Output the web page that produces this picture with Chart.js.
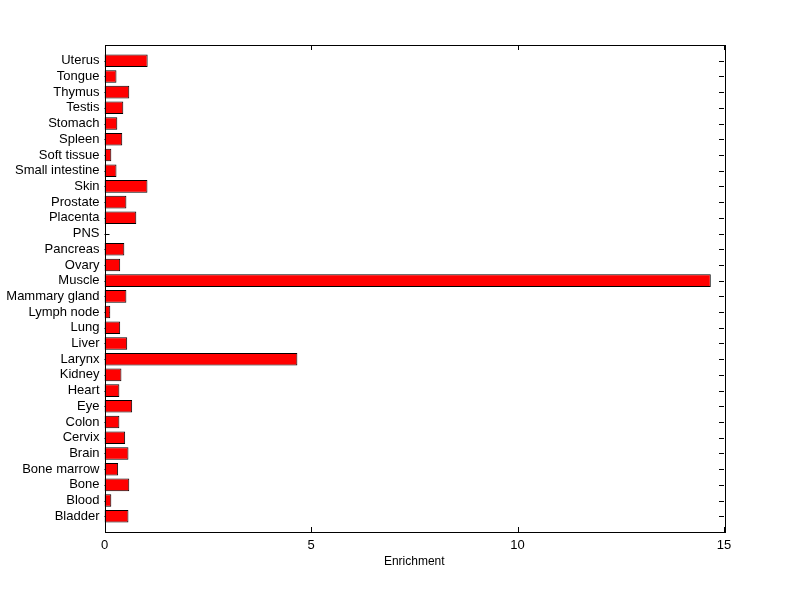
<!DOCTYPE html>
<html>
<head>
<meta charset="utf-8">
<script src="https://cdn.jsdelivr.net/npm/chart.js@4"></script>
<style>
  html, body { margin: 0; padding: 0; background: #fff; }
  canvas { display: block; }
</style>
</head>
<body>
<canvas id="c" width="800" height="599"></canvas>
<script>
// tissues listed bottom to top, as in the figure
const tissues = ['Bladder', 'Blood', 'Bone', 'Bone marrow', 'Brain', 'Cervix', 'Colon', 'Eye', 'Heart',
    'Kidney', 'Larynx', 'Liver', 'Lung', 'Lymph node', 'Mammary gland', 'Muscle', 'Ovary', 'Pancreas',
    'PNS', 'Placenta', 'Prostate', 'Skin', 'Small intestine', 'Soft tissue', 'Spleen', 'Stomach',
    'Testis', 'Thymus', 'Tongue', 'Uterus'];
const enrichment = [0.58, 0.165, 0.60, 0.33, 0.58, 0.50, 0.36, 0.67, 0.36,
    0.41, 4.67, 0.55, 0.38, 0.14, 0.53, 14.68, 0.38, 0.48,
    0, 0.77, 0.53, 1.04, 0.29, 0.165, 0.43, 0.31,
    0.455, 0.60, 0.29, 1.045];
const xTicks = [0, 5, 10, 15];

// chart.js puts first label on top, pad one empty slot at each end (axis runs 0..31)
const labels = [''].concat(tissues.slice().reverse(), ['']);
const values = [null].concat(enrichment.slice().reverse(), [null]);

const FONT = { family: '"Liberation Sans", Arial, sans-serif', size: 13 };

// inward ticks go under the bars, the box on top
const boxTicks = {
    id: 'boxTicks',
    beforeDatasetsDraw(chart) {
        const { ctx, chartArea: a, scales } = chart;
        ctx.save();
        ctx.strokeStyle = '#000';
        ctx.lineWidth = 1;
        ctx.beginPath();
        scales.y.ticks.forEach((t, i) => {
            if (!labels[i]) return;
            const y = Math.round(scales.y.getPixelForTick(i)) + 0.5;
            ctx.moveTo(a.left, y); ctx.lineTo(a.left + 5, y);
            ctx.moveTo(a.right, y); ctx.lineTo(a.right - 5, y);
        });
        xTicks.forEach(v => {
            const x = Math.round(scales.x.getPixelForValue(v)) + 0.5;
            ctx.moveTo(x, a.bottom); ctx.lineTo(x, a.bottom - 5);
            ctx.moveTo(x, a.top); ctx.lineTo(x, a.top + 5);
        });
        ctx.stroke();
        ctx.restore();
    },
    afterDraw(chart) {
        const { ctx, chartArea: a } = chart;
        ctx.save();
        ctx.strokeStyle = '#000';
        ctx.lineWidth = 1;
        ctx.strokeRect(Math.round(a.left) + 0.5, Math.round(a.top) + 0.5,
            Math.round(a.right - a.left), Math.round(a.bottom - a.top));
        ctx.restore();
    }
};

new Chart(document.getElementById('c'), {
    type: 'bar',
    data: {
        labels,
        datasets: [{
            label: 'Enrichment',
            data: values,
            backgroundColor: '#ff0000',
            borderColor: '#000',
            borderWidth: 1,
            borderSkipped: false,
            barPercentage: 0.8,
            categoryPercentage: 1
        }]
    },
    options: {
        indexAxis: 'y',
        responsive: false,
        animation: false,
        layout: { padding: { top: 45, right: 76, left: 0, bottom: 26 } },
        plugins: {
            legend: { display: false },
            tooltip: { enabled: false }
        },
        scales: {
            x: {
                min: 0, max: 15,
                afterBuildTicks: s => { s.ticks = xTicks.map(v => ({ value: v })); },
                afterFit: s => { s.height = 41; },
                grid: { display: false, drawTicks: false },
                border: { display: false },
                ticks: { color: '#000', font: FONT, padding: 6 },
                title: { display: true, text: 'Enrichment', color: '#000', font: { family: FONT.family, size: 12 }, padding: { top: 4, bottom: 4 } }
            },
            y: {
                offset: false,
                afterFit: s => { s.width = 104.5; },
                grid: { display: false, drawTicks: false },
                border: { display: false },
                ticks: { color: '#000', font: FONT, padding: 5, autoSkip: false }
            }
        }
    },
    plugins: [boxTicks]
});
</script>
</body>
</html>
